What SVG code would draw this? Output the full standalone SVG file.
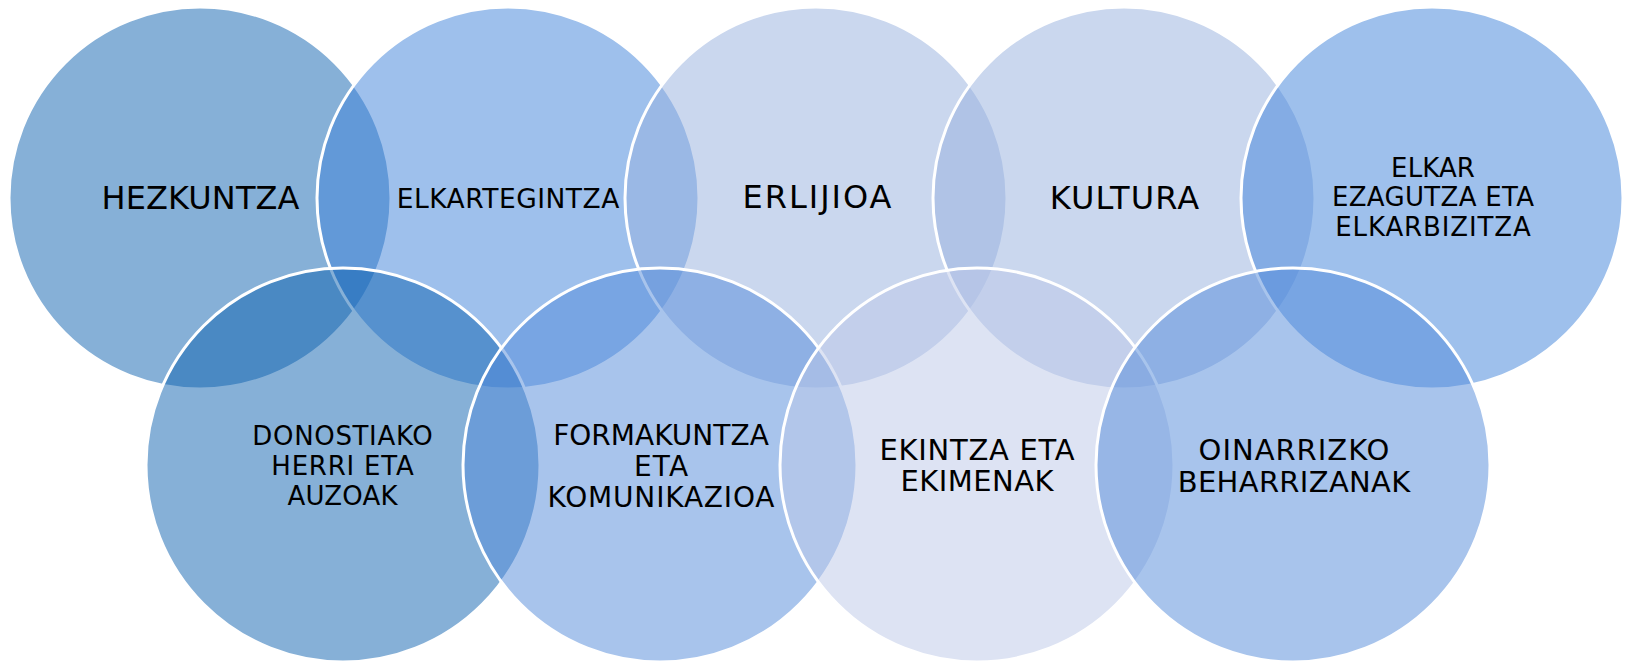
<svg xmlns="http://www.w3.org/2000/svg" width="1625" height="664" viewBox="0 0 1625 664">
<style>
.c{stroke:#ffffff;stroke-width:3;fill-opacity:0.5}
.c1{fill:#0D61AF}
.c2{fill:#3D81D9}
.c3{fill:#95AFDD}
.c4{fill:#5189D9}
.c5{fill:#BBC7E7}
text{font-family:"DejaVu Sans","Verdana",sans-serif;fill:#000000;text-anchor:middle}
.big{font-size:32px}
.mid{font-size:26.5px}
.s26{font-size:26px}
.s28{font-size:28px}
.s29{font-size:29px}
</style>
<rect width="1625" height="664" fill="#ffffff"/>
<g id="connectors"></g>
<g id="n-hezkuntza">
<circle class="c c1" cx="200" cy="198" r="191"/>
<text class="big" x="200.5" y="209" textLength="198">HEZKUNTZA</text>
</g>
<g id="n-elkartegintza">
<circle class="c c2" cx="508" cy="198" r="191"/>
<text class="mid" x="508" y="208" textLength="222.6">ELKARTEGINTZA</text>
</g>
<g id="n-erlijioa">
<circle class="c c3" cx="816" cy="198" r="191"/>
<text class="big" x="817" y="208" textLength="148.9">ERLIJIOA</text>
</g>
<g id="n-kultura">
<circle class="c c3" cx="1124" cy="198" r="191"/>
<text class="big" x="1124.5" y="209" textLength="149.5">KULTURA</text>
</g>
<g id="n-elkar">
<circle class="c c2" cx="1432" cy="198" r="191"/>
<text class="s26" x="1433" y="177" textLength="83.8">ELKAR</text>
<text class="s26" x="1433" y="206" textLength="202.2">EZAGUTZA ETA</text>
<text class="s26" x="1433" y="236" textLength="195.6">ELKARBIZITZA</text>
</g>
<g id="n-donostiako">
<circle class="c c1" cx="343" cy="465" r="197"/>
<text class="s26" x="342.5" y="445" textLength="180.4">DONOSTIAKO</text>
<text class="s26" x="342.5" y="475" textLength="142.4">HERRI ETA</text>
<text class="s26" x="342.5" y="505" textLength="109.9">AUZOAK</text>
</g>
<g id="n-formakuntza">
<circle class="c c4" cx="660" cy="465" r="197"/>
<text class="s28" x="661" y="445" textLength="215.7">FORMAKUNTZA</text>
<text class="s28" x="661" y="476" textLength="54.1">ETA</text>
<text class="s28" x="661" y="507" textLength="226.9">KOMUNIKAZIOA</text>
</g>
<g id="n-ekintza">
<circle class="c c5" cx="977" cy="465" r="197"/>
<text class="s29" x="977" y="460" textLength="195">EKINTZA ETA</text>
<text class="s29" x="977" y="491" textLength="152.9">EKIMENAK</text>
</g>
<g id="n-oinarrizko">
<circle class="c c4" cx="1293" cy="465" r="197"/>
<text class="s29" x="1294" y="460" textLength="190.8">OINARRIZKO</text>
<text class="s29" x="1294" y="492" textLength="232.6">BEHARRIZANAK</text>
</g>
</svg>
